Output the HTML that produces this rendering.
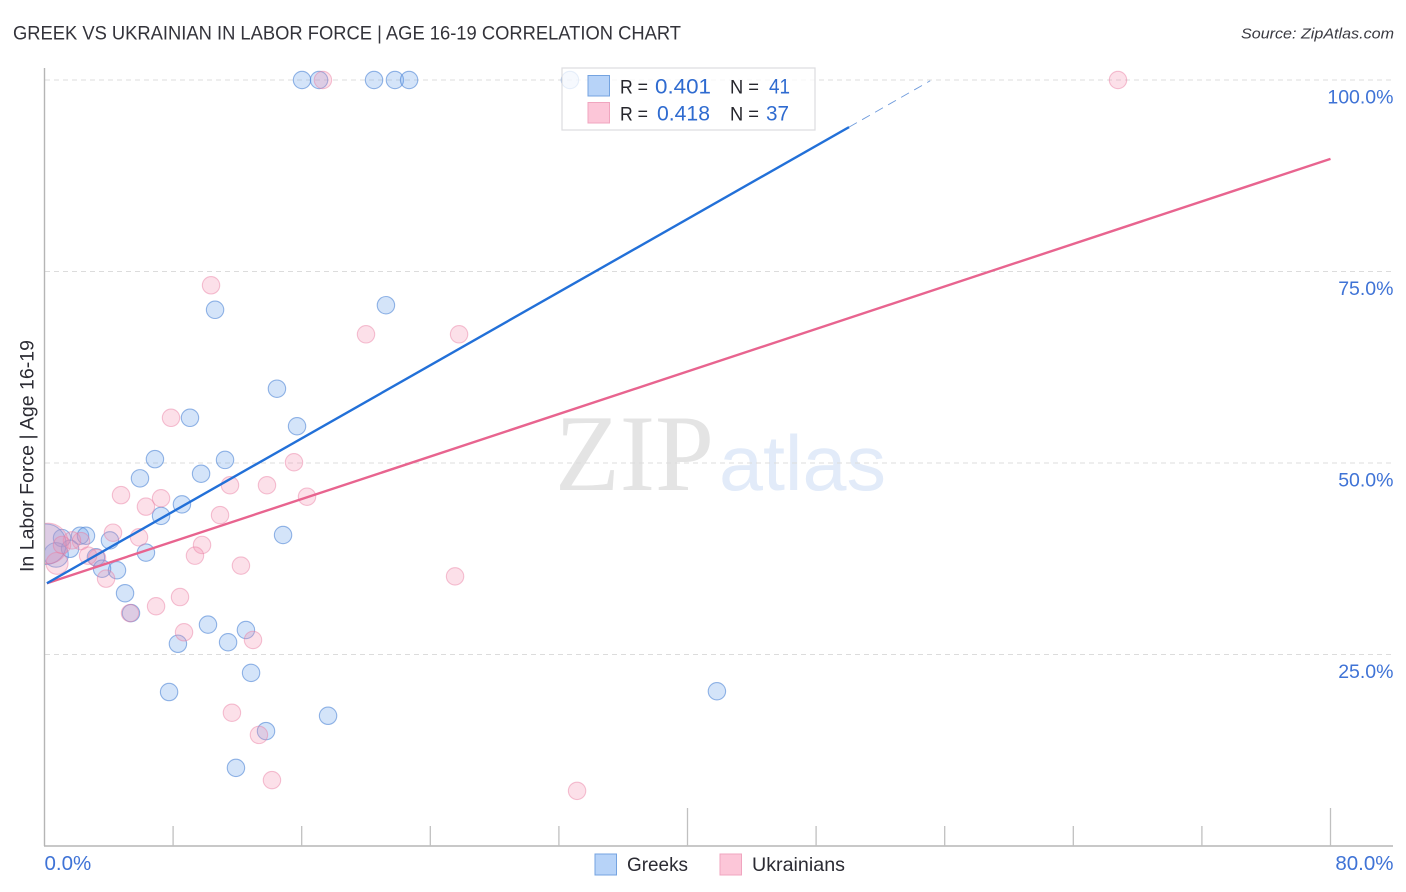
<!DOCTYPE html>
<html lang="en">
<head>
<meta charset="utf-8">
<title>Greek vs Ukrainian in Labor Force | Age 16-19 Correlation Chart</title>
<style>
html,body{margin:0;padding:0;background:#fff;width:1406px;height:892px;overflow:hidden}
svg{display:block}
text{font-family:"Liberation Sans",sans-serif}
</style>
</head>
<body>
<svg id="chart" width="1406" height="892" viewBox="0 0 1406 892" xmlns="http://www.w3.org/2000/svg">
  <defs>
    <clipPath id="plot-clip"><rect x="45" y="60" width="1350" height="786"/></clipPath>
  </defs>
  <rect x="0" y="0" width="1406" height="892" fill="#ffffff"/>
  <text x="13" y="39.5" font-size="19" fill="#33333a" textLength="668" lengthAdjust="spacingAndGlyphs">GREEK VS UKRAINIAN IN LABOR FORCE | AGE 16-19 CORRELATION CHART</text>
  <text x="1241" y="38.5" font-size="15" font-style="italic" fill="#3a3a42" textLength="153" lengthAdjust="spacingAndGlyphs">Source: ZipAtlas.com</text>
  <g id="watermark">
    <text x="555" y="490" font-size="109" fill="#e4e4e4" style="font-family:'Liberation Serif',serif" textLength="159" lengthAdjust="spacingAndGlyphs">ZIP</text>
    <text x="719" y="490" font-size="78" fill="#e2ebf9" textLength="167" lengthAdjust="spacingAndGlyphs">atlas</text>
  </g>
  <g id="grid"></g>
  <g id="axes"></g>
  <g id="points" clip-path="url(#plot-clip)"></g>
  <g id="trends"></g>
  <g id="stats-legend">
    <rect x="562" y="68" width="253" height="62" fill="#ffffff" fill-opacity="0.78" stroke="#dcdcdf" stroke-width="1.2"/>
    <rect x="588" y="75.500" width="21.500" height="20.500" fill="#b7d3f8" stroke="#74a3e0" stroke-width="1"/>
    <rect x="588" y="102.500" width="21.500" height="20.500" fill="#fcc6d8" stroke="#f0a5bf" stroke-width="1"/>
    <text x="620" y="93.500" font-size="19.500" fill="#26262c" textLength="28" lengthAdjust="spacingAndGlyphs">R =</text>
    <text x="655" y="93.500" font-size="21" fill="#2f6bd0" textLength="56" lengthAdjust="spacingAndGlyphs">0.401</text>
    <text x="730" y="93.500" font-size="19.500" fill="#26262c" textLength="29" lengthAdjust="spacingAndGlyphs">N =</text>
    <text x="769" y="93.500" font-size="21" fill="#2f6bd0" textLength="21" lengthAdjust="spacingAndGlyphs">41</text>
    <text x="620" y="120.500" font-size="19.500" fill="#26262c" textLength="28" lengthAdjust="spacingAndGlyphs">R =</text>
    <text x="657" y="120.500" font-size="21" fill="#2f6bd0" textLength="53" lengthAdjust="spacingAndGlyphs">0.418</text>
    <text x="730" y="120.500" font-size="19.500" fill="#26262c" textLength="29" lengthAdjust="spacingAndGlyphs">N =</text>
    <text x="766" y="120.500" font-size="21" fill="#2f6bd0" textLength="23" lengthAdjust="spacingAndGlyphs">37</text>
  </g>
  <text transform="translate(33.500,572) rotate(-90)" x="0" y="0" font-size="19" fill="#2b2b33" textLength="232" lengthAdjust="spacingAndGlyphs">In Labor Force | Age 16-19</text>
  <g id="bottom-legend">
    <rect x="595" y="854" width="21.500" height="21" fill="#b7d3f8" stroke="#74a3e0" stroke-width="1"/>
    <text x="627" y="871" font-size="19.500" fill="#2b2b33" textLength="61" lengthAdjust="spacingAndGlyphs">Greeks</text>
    <rect x="720" y="854" width="21.500" height="21" fill="#fcc6d8" stroke="#f0a5bf" stroke-width="1"/>
    <text x="752" y="871" font-size="19.500" fill="#2b2b33" textLength="93" lengthAdjust="spacingAndGlyphs">Ukrainians</text>
  </g>
</svg>
<script>
const greekX = [16.02,17.08,20.5,21.8,22.68,32.69,21.24,10.61,14.46,15.71,9.05,6.87,11.23,9.74,5.94,8.55,7.25,14.84,2.21,2.58,4.07,1.09,6.31,0.72,1.59,3.2,4.51,3.58,5.01,5.38,10.17,12.53,11.42,8.3,12.85,7.75,41.83,17.64,13.78,11.91,0.09];
const greekY = [100,100,100,100,100,100,70.6,70.0,59.7,54.8,55.9,50.5,50.4,48.6,48.0,44.6,43.1,40.6,40.5,40.5,39.9,40.2,38.3,38.0,38.8,37.7,36.0,36.2,33.0,30.4,28.9,28.2,26.6,26.4,22.6,20.1,20.2,17.0,15.0,10.2,39.4];
const greekWeight = [1,1,1,1,1,1,1,1,1,1,1,1,1,1,1,1,1,1,1,1,1,1,1,2,1,1,1,1,1,1,1,1,1,1,1,1,1,1,1,1,5.4];

const ukrainianX = [17.32,66.78,10.36,20.0,25.79,7.87,15.52,4.76,11.54,13.84,7.25,16.33,6.31,10.92,4.26,5.88,2.27,1.71,9.8,9.36,12.22,25.54,3.27,2.71,3.83,6.94,5.32,8.43,8.68,12.97,11.66,13.34,14.15,33.13,0.78,0.22,1.09];
const ukrainianY = [100,100,73.2,66.8,66.8,55.9,50.1,45.8,47.1,47.1,45.4,45.6,44.3,43.2,40.9,40.3,39.8,39.9,39.3,37.9,36.6,35.2,37.6,37.9,34.9,31.3,30.4,32.5,27.9,26.9,17.4,14.5,8.6,7.2,36.9,39.5,39.3];
const ukrainianWeight = [1,1,1,1,1,1,1,1,1,1,1,1,1,1,1,1,1,1,1,1,1,1,1,1,1,1,1,1,1,1,1,1,1,1,1.6,5.4,1];

const greekTrendX = [0.15, 50.05, 55.1];
const greekTrendY = [34.3, 93.85, 99.9];
const ukrainianTrendX = [0.15, 80];
const ukrainianTrendY = [34.3, 89.7];

const xMinorTicks = [0,8,16,24,32,40,48,56,64,72,80];
const xMajorTicks = [40,80];
const xTickLabels = ["0.0%","80.0%"];
const xLabelValues = [0,80];
const yGridValues = [25,50,75,100];
const yTickLabels = ["25.0%","50.0%","75.0%","100.0%"];

const NS = "http://www.w3.org/2000/svg";
function xAxis(v){ return 44.5 + v * (1330.5 - 44.5) / 80; }
function yAxis(v){ return 846 - v * (846 - 80) / 100; }
function radius(w){ return 8.7 * Math.sqrt(w); }
function make(tag, parent, attrs){
  const el = document.createElementNS(NS, tag);
  for (const k in attrs) el.setAttribute(k, attrs[k]);
  parent.appendChild(el);
  return el;
}

const gridG = document.getElementById("grid");
yGridValues.forEach(function(v){
  const gl = make("line", gridG, {x1:45, x2:1393, y1:yAxis(v), y2:yAxis(v), stroke:"#dcdcdc", "stroke-width":1, "stroke-dasharray":"5 4"});
  
  
});

const axesG = document.getElementById("axes");
const yLine = make("line", axesG, {x1:44.5, x2:44.5, y1:68, y2:846, stroke:"#b5b5b5", "stroke-width":1.4});


const xLine = make("line", axesG, {x1:44, x2:1393, y1:846, y2:846, stroke:"#b5b5b5", "stroke-width":1.4});


xMinorTicks.slice(1).forEach(function(v){
  const top = xMajorTicks.indexOf(v) >= 0 ? 808 : 826;
  const t = make("line", axesG, {x1:xAxis(v), x2:xAxis(v), y1:top, y2:846, stroke:"#c0c0c0", "stroke-width":1.3});
  
  
});
xTickLabels.forEach(function(label, i){
  const isFirst = i === 0;
  const t = make("text", axesG, {x:isFirst ? xAxis(xLabelValues[i]) : 1393.5, y:870, "font-size":20.5, fill:"#3f73d6", "text-anchor":isFirst ? "start" : "end"});
  t.textContent = label;
  
  
});
yTickLabels.forEach(function(label, i){
  const t = make("text", axesG, {x:1393.5, y:yAxis(yGridValues[i]) + 23.5, "font-size":19.5, fill:"#3f73d6", "text-anchor":"end"});
  t.textContent = label;
  
  
});

const pointsG = document.getElementById("points");
greekX.forEach(function(x, i){
  const c = make("circle", pointsG, {cx:xAxis(x), cy:yAxis(greekY[i]), r:radius(greekWeight[i]), fill:"#6fa6ec", "fill-opacity":0.3, stroke:"#4f86d6", "stroke-opacity":0.6, "stroke-width":1.1});
  
  
});
ukrainianX.forEach(function(x, i){
  const c = make("circle", pointsG, {cx:xAxis(x), cy:yAxis(ukrainianY[i]), r:radius(ukrainianWeight[i]), fill:"#f48fb1", "fill-opacity":0.28, stroke:"#e8799f", "stroke-opacity":0.45, "stroke-width":1.1});
  
  
});

const trendsG = document.getElementById("trends");
const ukTrend = make("line", trendsG, {x1:xAxis(ukrainianTrendX[0]), y1:yAxis(ukrainianTrendY[0]), x2:xAxis(ukrainianTrendX[1]), y2:yAxis(ukrainianTrendY[1]), stroke:"#e8648f", "stroke-width":2.4});


const grTrend = make("line", trendsG, {x1:xAxis(greekTrendX[0]), y1:yAxis(greekTrendY[0]), x2:xAxis(greekTrendX[1]), y2:yAxis(greekTrendY[1]), stroke:"#2270d8", "stroke-width":2.4});


const grDash = make("line", trendsG, {x1:xAxis(greekTrendX[1]), y1:yAxis(greekTrendY[1]), x2:xAxis(greekTrendX[2]), y2:yAxis(greekTrendY[2]), stroke:"#6f9bdc", "stroke-width":0.9, "stroke-dasharray":"9 6"});


</script>
</body>
</html>
